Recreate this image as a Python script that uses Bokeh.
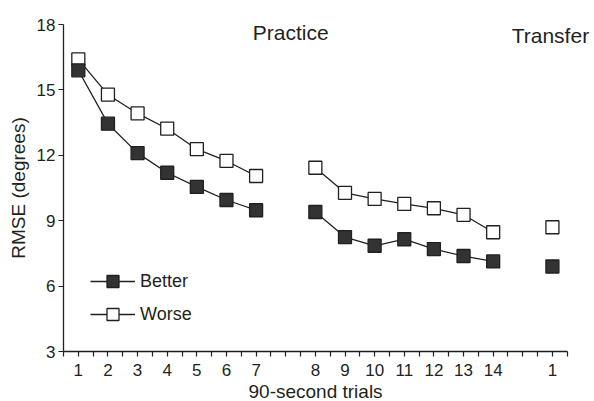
from bokeh.plotting import figure
from bokeh.models import FixedTicker, Legend, LegendItem, Label, Range1d, Title
from bokeh.embed import file_html
from bokeh.resources import INLINE

# ---- data ----
practice_trials = [1, 2, 3, 4, 5, 6, 7, 8, 9, 10, 11, 12, 13, 14]
better_practice = [15.9, 13.45, 12.1, 11.2, 10.55, 9.95, 9.48, 9.4, 8.25, 7.85, 8.15, 7.7, 7.38, 7.13]
worse_practice = [16.4, 14.78, 13.92, 13.22, 12.28, 11.74, 11.05, 11.43, 10.28, 10.0, 9.77, 9.57, 9.27, 8.47]
transfer_trials = [1]
better_transfer = [6.9]
worse_transfer = [8.7]
y_ticks = [3, 6, 9, 12, 15, 18]

FONT = "Liberation Sans"
INK = "#231f20"

# x positions: trials 1-7 -> 0..6, trials 8-14 -> 8..14, transfer -> 16
def pos(t):
    return t - 1 if t <= 7 else t
px = [pos(t) for t in practice_trials]
tx = [16 + i for i in range(len(transfer_trials))]
block1 = [i for i, t in enumerate(practice_trials) if t <= 7]
block2 = [i for i, t in enumerate(practice_trials) if t > 7]

p = figure(width=594, height=401, output_backend="svg", toolbar_location=None,
           x_range=Range1d(-0.5, 17.42), y_range=Range1d(3, 18),
           min_border_left=63, min_border_top=24, min_border_right=0, min_border_bottom=49)
p.outline_line_color = None
p.grid.visible = False
p.background_fill_color = "white"
p.border_fill_color = "white"

line_kw = dict(line_color=INK, line_width=1.3)
wl1 = p.line([px[i] for i in block1], [worse_practice[i] for i in block1], **line_kw)
wl2 = p.line([px[i] for i in block2], [worse_practice[i] for i in block2], **line_kw)
bl1 = p.line([px[i] for i in block1], [better_practice[i] for i in block1], **line_kw)
bl2 = p.line([px[i] for i in block2], [better_practice[i] for i in block2], **line_kw)

mk_w = dict(marker="square", size=13, fill_color="white", line_color=INK, line_width=1.3)
mk_b = dict(marker="square", size=13, fill_color="#333333", line_color=INK, line_width=1.3)
ws = p.scatter(px, worse_practice, **mk_w)
p.scatter(tx, worse_transfer, **mk_w)
bs = p.scatter(px, better_practice, **mk_b)
p.scatter(tx, better_transfer, **mk_b)

# axes
xa = p.xaxis[0]
major = px + tx
minor = [v + 0.5 for v in range(-1, 17)] + [7, 15]
xa.ticker = FixedTicker(ticks=major, minor_ticks=minor)
overrides = {x: str(t) for x, t in zip(px, practice_trials)}
overrides.update({x: str(t) for x, t in zip(tx, transfer_trials)})
xa.major_label_overrides = overrides
xa.bounds = (-0.5, 16.5)

ya = p.yaxis[0]
ya.ticker = FixedTicker(ticks=y_ticks, minor_ticks=[])
ya.axis_label = "RMSE (degrees)"

for ax in (xa, ya):
    ax.axis_line_color = INK
    ax.axis_line_width = 1.3
    ax.major_tick_line_color = INK
    ax.minor_tick_line_color = INK
    ax.major_tick_line_width = 1.2
    ax.minor_tick_line_width = 1.2
    ax.major_tick_in = 0
    ax.major_tick_out = 5
    ax.minor_tick_in = 0
    ax.minor_tick_out = 5
    ax.major_label_text_font = FONT
    ax.major_label_text_font_size = "17px"
    ax.major_label_text_color = INK
    ax.axis_label_text_font = FONT
    ax.axis_label_text_font_size = "19px"
    ax.axis_label_text_font_style = "normal"
    ax.axis_label_text_color = INK
xa.major_label_standoff = 7
ya.major_label_standoff = 3
ya.axis_label_standoff = 5
ya.major_label_orientation = "horizontal"

# x-axis title, placed under the axis and aligned with the axis span
p.add_layout(Title(text="90-second trials", align="left", offset=185, standoff=0,
                   text_font=FONT, text_font_size="19px", text_font_style="normal",
                   text_color=INK), "below")

# section labels
p.add_layout(Label(x=7, y=18, x_offset=5, y_offset=-8, text="Practice",
                   text_font=FONT, text_font_size="21px", text_color=INK,
                   text_align="center", text_baseline="alphabetic"))
p.add_layout(Label(x=16, y=18, x_offset=-2, y_offset=-11, text="Transfer",
                   text_font=FONT, text_font_size="21px", text_color=INK,
                   text_align="center", text_baseline="alphabetic"))

legend = Legend(items=[LegendItem(label="Better", renderers=[bl1, bs]),
                       LegendItem(label="Worse", renderers=[wl1, ws])],
                location=(27, 22), glyph_width=45, glyph_height=30, spacing=3,
                padding=0, margin=0, border_line_color=None, background_fill_alpha=0,
                label_text_font=FONT, label_text_font_size="18px", label_text_color=INK,
                label_standoff=5)
p.add_layout(legend)

open("out.html", "w").write(file_html(p, INLINE))
